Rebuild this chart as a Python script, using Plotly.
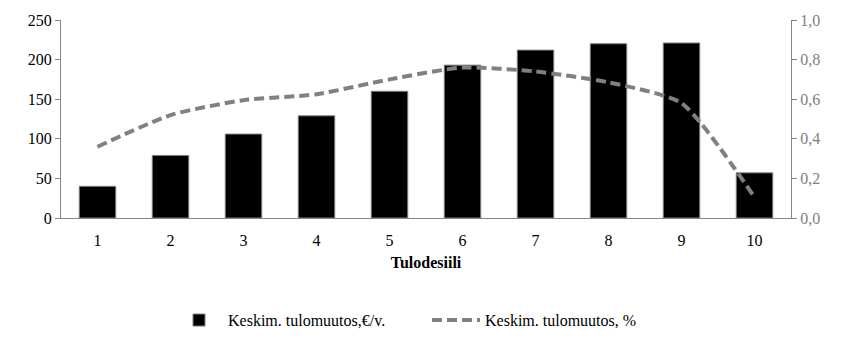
import plotly.graph_objects as go

deciles = ["1", "2", "3", "4", "5", "6", "7", "8", "9", "10"]
eur_change = [40, 79, 106, 129, 160, 193, 212, 220, 221, 57]
pct_change = [0.36, 0.52, 0.595, 0.625, 0.70, 0.76, 0.74, 0.685, 0.58, 0.105]

bar_name = "Keskim. tulomuutos,\u20ac/v."
line_name = "Keskim. tulomuutos, %"

font_family = "Liberation Serif"
axis_grey = "#868686"

fig = go.Figure()
fig.add_trace(go.Bar(
    x=deciles, y=eur_change, name=bar_name,
    marker=dict(color="black", line=dict(color="#808080", width=1)),
    yaxis="y",
))
fig.add_trace(go.Scatter(
    x=deciles, y=pct_change, name=line_name, mode="lines",
    line=dict(color="#808080", width=4, dash="10px,5px", shape="spline", smoothing=0.6),
    yaxis="y2",
))

fig.update_layout(
    width=842, height=342,
    margin=dict(l=61, r=51, t=20, b=124, autoexpand=False),
    paper_bgcolor="white", plot_bgcolor="white",
    separators=", ",
    font=dict(family=font_family, size=16, color="black"),
    bargap=0.5,
    showlegend=True,
    legend=dict(orientation="h", x=(170 - 61) / 730, xanchor="left", y=-0.43, yanchor="top",
                font=dict(size=16, family=font_family), itemwidth=48, tracegroupgap=0,
                entrywidth=194, entrywidthmode="pixels"),
    xaxis=dict(
        type="category", showline=True, linecolor=axis_grey, linewidth=1,
        ticks="", showgrid=False, zeroline=False,
        tickfont=dict(size=16, family=font_family),
        ticklabelstandoff=8,
        title=dict(text="<b>Tulodesiili</b>", font=dict(size=16, family=font_family), standoff=8),
    ),
    yaxis=dict(
        range=[0, 250], dtick=50, showline=True, linecolor=axis_grey, linewidth=1,
        ticks="outside", ticklen=5, tickcolor=axis_grey, showgrid=False, zeroline=False,
        tickfont=dict(size=16, color="black", family=font_family),
    ),
    yaxis2=dict(
        range=[0, 1.0], dtick=0.2, tickformat=".1f", overlaying="y", side="right",
        showline=True, linecolor=axis_grey, linewidth=1,
        ticks="outside", ticklen=5, tickcolor=axis_grey, showgrid=False, zeroline=False,
        tickfont=dict(size=16, color="#7f7f7f", family=font_family),
    ),
)

fig.write_html("out.html")
